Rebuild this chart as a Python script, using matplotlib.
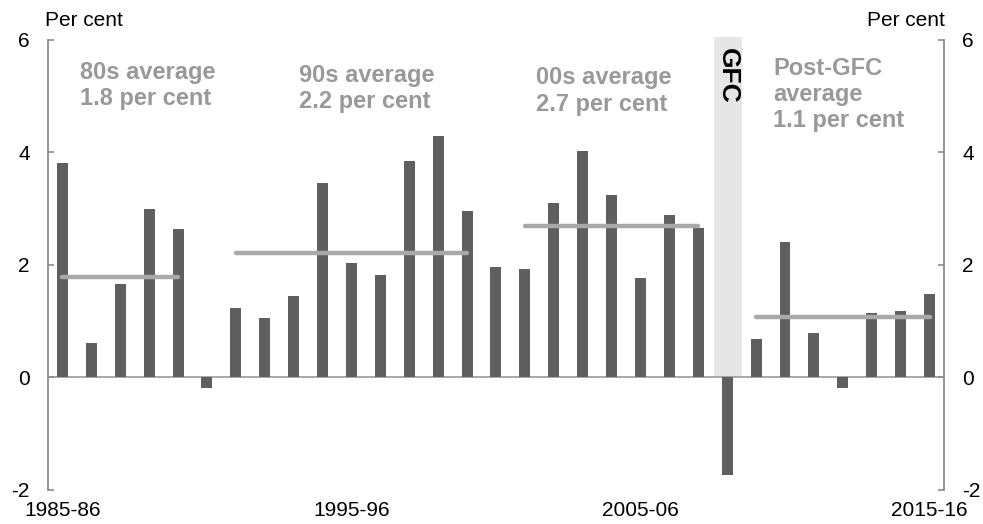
import numpy as np
import matplotlib.pyplot as plt

plt.rcParams['font.family'] = ['Liberation Sans', 'DejaVu Sans']
plt.rcParams['axes.unicode_minus'] = False

years = ['1985-86', '1986-87', '1987-88', '1988-89', '1989-90', '1990-91', '1991-92',
         '1992-93', '1993-94', '1994-95', '1995-96', '1996-97', '1997-98', '1998-99',
         '1999-00', '2000-01', '2001-02', '2002-03', '2003-04', '2004-05', '2005-06',
         '2006-07', '2007-08', '2008-09', '2009-10', '2010-11', '2011-12', '2012-13',
         '2013-14', '2014-15', '2015-16']
growth = [3.81, 0.61, 1.66, 2.99, 2.64, -0.18, 1.23, 1.05, 1.44, 3.45, 2.04, 1.83,
          3.85, 4.30, 2.96, 1.97, 1.93, 3.11, 4.02, 3.25, 1.76, 2.89, 2.65, -1.74,
          0.68, 2.40, 0.79, -0.18, 1.15, 1.19, 1.48]

# period averages
avg_start = ['1985-86', '1991-92', '2001-02', '2009-10']
avg_end = ['1989-90', '1999-00', '2007-08', '2015-16']
avg_value = [1.78, 2.21, 2.70, 1.08]
avg_label = ['80s average\n1.8 per cent', '90s average\n2.2 per cent',
             '00s average\n2.7 per cent', 'Post-GFC\naverage\n1.1 per cent']
gfc_year = '2008-09'
xtick_years = ['1985-86', '1995-96', '2005-06', '2015-16']

x = np.arange(len(years))
idx = {y: i for i, y in enumerate(years)}

fig = plt.figure(figsize=(9.83, 5.24), dpi=100)
ax = fig.add_axes([0.0488, 0.0649, 0.9115, 0.8588])

# GFC shading
g = idx[gfc_year]
ax.fill_between([g - 0.45, g + 0.5], 0, 6.06, color='#e6e6e6', zorder=0, lw=0,
                clip_on=False)
ax.text(g + 0.03, 5.86, 'GFC', rotation=-90, ha='center', va='top',
        fontsize=19, fontweight='bold', color='black')

ax.bar(x, growth, width=0.38, color='#5f5f5f', zorder=2)
ax.axhline(0, color='#999999', lw=1.2, zorder=1)

for s, e, v in zip(avg_start, avg_end, avg_value):
    ax.plot([idx[s], idx[e]], [v, v], color='#a9a9a9', lw=3.2,
            solid_capstyle='round', zorder=3)

lbl_x = [0.6, 8.2, 16.4, 24.6]
lbl_y = [5.63, 5.58, 5.53, 5.7]
for lx, ly, t in zip(lbl_x, lbl_y, avg_label):
    ax.text(lx, ly, t, ha='left', va='top', fontsize=17, fontweight='bold',
            color='#999999', linespacing=1.18)

ax.set_xlim(-0.5, len(years) - 0.5)
ax.set_ylim(-2, 6)
ax.set_yticks([-2, 0, 2, 4, 6])
ax.set_xticks([idx[y] for y in xtick_years])
ax.set_xticklabels(xtick_years)

for side in ['top', 'bottom']:
    ax.spines[side].set_visible(False)
for side in ['left', 'right']:
    ax.spines[side].set_color('#8c8c8c')
    ax.spines[side].set_linewidth(1.3)

ax.tick_params(axis='y', which='both', direction='in', length=4.5, width=1.2,
               color='#8c8c8c', labelsize=15, pad=13, left=True, right=True,
               labelleft=True, labelright=True)
ax.tick_params(axis='x', length=0, labelsize=15, pad=8)

fig.text(45 / 983, 1 - 21 / 524, 'Per cent', fontsize=15, ha='left', va='center')
fig.text(945 / 983, 1 - 21 / 524, 'Per cent', fontsize=15, ha='right', va='center')

plt.savefig('out.png', dpi=100)
plt.close()
